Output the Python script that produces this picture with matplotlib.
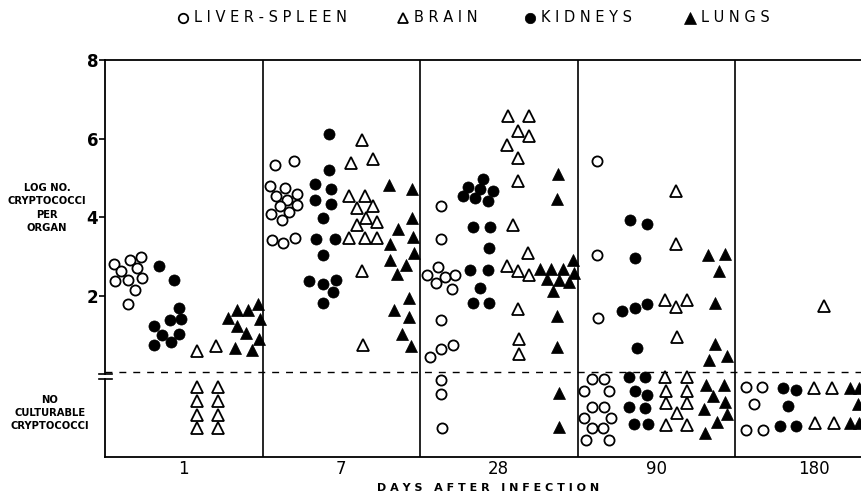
import matplotlib
matplotlib.use("Agg")
import matplotlib.pyplot as plt
from matplotlib.lines import Line2D

# ---- data ------------------------------------------------------------
# one column per day; inside a column each organ has its own sub-column.
# *_pos = place of the mark across the day column (0..1)
# *_log = log no. of cryptococci per organ (values below 0 = not culturable)
days = ["1", "7", "28", "90", "180"]

liver_pos = [
    [0.059, 0.159, 0.229, 0.102, 0.205, 0.063, 0.148, 0.233, 0.190, 0.144],
    [0.081, 0.198, 0.050, 0.141, 0.219, 0.086, 0.156, 0.219, 0.113, 0.171,
     0.056, 0.124, 0.060, 0.128, 0.208],
    [0.131, 0.131, 0.043, 0.116, 0.102, 0.159, 0.222, 0.201, 0.131, 0.208,
     0.131, 0.063, 0.131, 0.131, 0.138],
    [0.122, 0.122, 0.132, 0.090, 0.168, 0.042, 0.202, 0.090, 0.168, 0.042,
     0.211, 0.090, 0.164, 0.054, 0.202],
    [0.070, 0.169, 0.122, 0.070, 0.176],
]
liver_log = [
    [2.82, 2.92, 2.99, 2.62, 2.71, 2.37, 2.41, 2.46, 2.16, 1.79],
    [5.34, 5.44, 4.79, 4.75, 4.60, 4.55, 4.45, 4.32, 4.28, 4.13,
     4.07, 3.92, 3.41, 3.35, 3.48],
    [4.28, 3.45, 2.54, 2.74, 2.33, 2.48, 2.54, 2.18, 1.39, 0.76,
     0.65, 0.44, -0.13, -0.49, -1.37],
    [5.43, 3.05, 1.44, -0.12, -0.12, -0.43, -0.41, -0.82, -0.83, -1.11,
     -1.11, -1.37, -1.37, -1.68, -1.66],
    [-0.33, -0.31, -0.75, -1.41, -1.41],
]

kidney_pos = [
    [0.34, 0.44, 0.47, 0.41, 0.48, 0.31, 0.36, 0.47, 0.42, 0.31],
    [0.424, 0.424, 0.333, 0.433, 0.333, 0.433, 0.382, 0.340, 0.460, 0.382,
     0.297, 0.382, 0.467, 0.450, 0.382],
    [0.402, 0.307, 0.381, 0.465, 0.275, 0.349, 0.434, 0.334, 0.444, 0.440,
     0.318, 0.434, 0.381, 0.334, 0.440],
    [0.333, 0.439, 0.365, 0.281, 0.365, 0.443, 0.376, 0.329, 0.429, 0.365,
     0.443, 0.329, 0.429, 0.359, 0.450],
    [0.303, 0.387, 0.339, 0.286, 0.387],
]
kidney_log = [
    [2.75, 2.41, 1.68, 1.38, 1.41, 1.24, 1.00, 1.02, 0.82, 0.76],
    [6.11, 5.21, 4.85, 4.73, 4.45, 4.34, 3.98, 3.45, 3.45, 3.03,
     2.37, 2.29, 2.41, 2.11, 1.82],
    [4.98, 4.77, 4.72, 4.66, 4.54, 4.49, 4.41, 3.76, 3.76, 3.22,
     2.67, 2.65, 2.20, 1.83, 1.83],
    [3.92, 3.84, 2.97, 1.61, 1.69, 1.79, 0.67, -0.07, -0.07, -0.43,
     -0.52, -0.83, -0.86, -1.26, -1.26],
    [-0.35, -0.39, -0.79, -1.32, -1.32],
]

brain_pos = [
    [0.582, 0.705, 0.582, 0.582, 0.582, 0.582, 0.719, 0.719, 0.719, 0.719],
    [0.63, 0.56, 0.70, 0.55, 0.65, 0.60, 0.70, 0.657, 0.60, 0.725,
     0.55, 0.65, 0.725, 0.63, 0.64],
    [0.561, 0.694, 0.624, 0.694, 0.554, 0.624, 0.624, 0.589, 0.688, 0.554,
     0.624, 0.694, 0.624, 0.630, 0.630],
    [0.625, 0.625, 0.556, 0.625, 0.693, 0.630, 0.556, 0.693, 0.562, 0.693,
     0.562, 0.697, 0.630, 0.562, 0.697],
    [0.565, 0.502, 0.614, 0.508, 0.629],
]
brain_log = [
    [0.59, 0.73, -0.33, -0.67, -1.03, -1.37, -0.33, -0.67, -1.03, -1.37],
    [5.96, 5.37, 5.47, 4.55, 4.55, 4.24, 4.29, 3.98, 3.79, 3.87,
     3.48, 3.48, 3.48, 2.62, 0.76],
    [6.57, 6.57, 6.19, 6.06, 5.85, 5.51, 4.92, 3.81, 3.09, 2.77,
     2.62, 2.54, 1.67, 0.90, 0.52],
    [4.66, 3.33, 1.90, 1.72, 1.90, 0.95, -0.07, -0.07, -0.41, -0.41,
     -0.73, -0.73, -0.98, -1.28, -1.28],
    [1.73, -0.35, -0.35, -1.24, -1.24],
]

lungs_pos = [
    [0.781, 0.836, 0.910, 0.973, 0.984, 0.840, 0.893, 0.980, 0.827, 0.933],
    [0.805, 0.947, 0.947, 0.862, 0.953, 0.810, 0.962, 0.810, 0.911, 0.852,
     0.932, 0.835, 0.932, 0.884, 0.941],
    [0.878, 0.868, 0.762, 0.830, 0.906, 0.970, 0.978, 0.804, 0.884, 0.948,
     0.843, 0.872, 0.872, 0.884, 0.884],
    [0.830, 0.937, 0.901, 0.873, 0.873, 0.837, 0.951, 0.816, 0.930, 0.863,
     0.937, 0.800, 0.948, 0.884, 0.810],
    [0.730, 0.789, 0.783, 0.730, 0.789],
]
lungs_log = [
    [1.44, 1.63, 1.63, 1.78, 1.41, 1.24, 1.05, 0.90, 0.67, 0.61],
    [4.83, 4.71, 3.98, 3.69, 3.50, 3.33, 3.08, 2.90, 2.78, 2.56,
     1.95, 1.65, 1.46, 1.04, 0.73],
    [5.09, 4.47, 2.69, 2.69, 2.69, 2.91, 2.58, 2.43, 2.41, 2.34,
     2.12, 1.48, 0.71, -0.47, -1.34],
    [3.05, 3.07, 2.62, 1.83, 0.78, 0.37, 0.48, -0.26, -0.26, -0.56,
     -0.69, -0.88, -1.00, -1.20, -1.49],
    [-0.35, -0.35, -0.75, -1.24, -1.24],
]

organs = ["LIVER-SPLEEN", "BRAIN", "KIDNEYS", "LUNGS"]
y_ticks = [2, 4, 6, 8]
detect_limit = 0.05   # dashed line: below it nothing was culturable


def spaced(s):
    # lettering-guide look: wide letter spacing
    return "   ".join(" ".join(w) for w in s.split())


# marker style per organ
styles = {
    "LIVER-SPLEEN": dict(marker="o", ms=7.3, mfc="white", mew=1.3),
    "BRAIN": dict(marker="^", ms=8.0, mfc="white", mew=1.3),
    "KIDNEYS": dict(marker="o", ms=8.0, mfc="black", mew=0.5),
    "LUNGS": dict(marker="^", ms=8.5, mfc="black", mew=0.5),
}
series = {
    "LIVER-SPLEEN": (liver_pos, liver_log),
    "BRAIN": (brain_pos, brain_log),
    "KIDNEYS": (kidney_pos, kidney_log),
    "LUNGS": (lungs_pos, lungs_log),
}

fig = plt.figure(figsize=(8.62, 4.99), dpi=100)
# right end of the last panel runs off the page, as in the scan
ax = fig.add_axes([105 / 862, 42 / 499, 787.5 / 862, 397 / 499])
ax.set_xlim(0, len(days))
ax.set_ylim(-2.1, 8.0)

for name in organs:
    pos, vals = series[name]
    xs = [d + p for d, col in enumerate(pos) for p in col]
    ys = [v for col in vals for v in col]
    ax.plot(xs, ys, linestyle="none", mec="black", **styles[name])

# ---- panels, detection line
for d in range(1, len(days)):
    ax.axvline(d, color="black", lw=1.2)
ax.axhline(detect_limit, color="black", lw=1.0, dashes=(5, 5))

for sp in ("top", "bottom"):
    ax.spines[sp].set_linewidth(1.3)
ax.spines["left"].set_visible(False)
# broken left axis
ax.plot([0, 0], [-2.1, -0.11], color="black", lw=1.3, clip_on=False)
ax.plot([0, 0], [0.02, 8.0], color="black", lw=1.3, clip_on=False)
for yb in (0.02, -0.11):
    ax.plot([-0.04, 0.045], [yb, yb], color="black", lw=1.2, clip_on=False)

ax.set_yticks(y_ticks)
ax.set_yticklabels([str(t) for t in y_ticks], fontsize=12, fontweight="bold")
ax.tick_params(axis="y", direction="out", length=4, width=1.2, pad=1)
ax.set_xticks([d + 0.5 for d in range(len(days))])
ax.set_xticklabels(days, fontsize=12)
ax.tick_params(axis="x", length=0, pad=2)

# ---- left-hand labels
fig.text(47 / 862, 1 - 208 / 499, "LOG NO.\nCRYPTOCOCCI\nPER\nORGAN",
         ha="center", va="center", fontsize=7.2, fontweight="bold",
         linespacing=1.4)
fig.text(50 / 862, 1 - 413 / 499, "NO\nCULTURABLE\nCRYPTOCOCCI",
         ha="center", va="center", fontsize=7.2, fontweight="bold",
         linespacing=1.4)
fig.text(488 / 862, 1 - 488 / 499, spaced("DAYS AFTER INFECTION"),
         ha="center", va="center", fontsize=8, fontweight="bold")

# ---- key across the top
key_x = [183, 403, 530, 690]
for name, kx in zip(organs, key_x):
    st = dict(styles[name])
    st["ms"] = st["ms"] - 0.5
    fig.add_artist(Line2D([kx / 862], [1 - 18 / 499], linestyle="none",
                          mec="black", transform=fig.transFigure, **st))
    fig.text((kx + 11) / 862, 1 - 18 / 499, spaced(name), ha="left",
             va="center", fontsize=10.5)

fig.savefig("out.png", dpi=100)
